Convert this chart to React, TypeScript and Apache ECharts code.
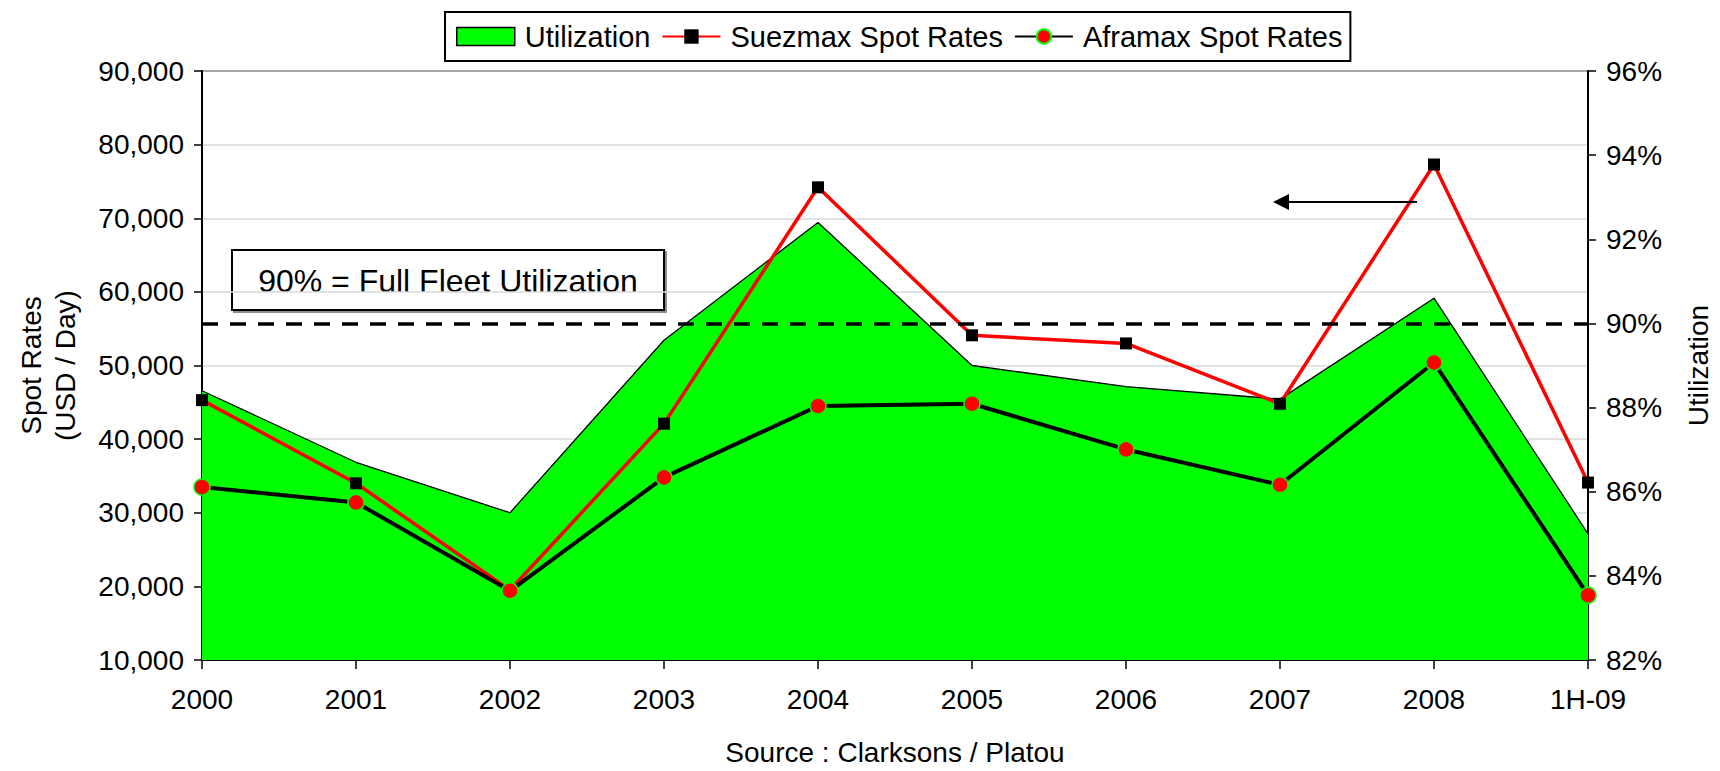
import React, { useEffect, useRef } from 'react';
import * as echarts from 'echarts';

const categories = ['2000', '2001', '2002', '2003', '2004', '2005', '2006', '2007', '2008', '1H-09'];
const utilization = [88.4, 86.7, 85.5, 89.6, 92.4, 89.0, 88.5, 88.2, 90.6, 85.0];
const suezmax = [45300, 34000, 19500, 42100, 74200, 54100, 53000, 44800, 77300, 34100];
const aframax = [33500, 31400, 19400, 34800, 44500, 44800, 38600, 33800, 50400, 18800];
const fullUtilization = 90;
const spotMin = 10000;
const spotMax = 90000;
const spotStep = 10000;
const utilMin = 82;
const utilMax = 96;
const utilStep = 2;

const FONT = '"Liberation Sans", Arial, sans-serif';

export default function App() {
  const ref = useRef<HTMLDivElement>(null);
  useEffect(() => {
    const chart = echarts.init(ref.current!, null, { renderer: 'svg' });
    chart.setOption({
      animation: false,
      backgroundColor: '#ffffff',
      textStyle: { fontFamily: FONT, color: '#000' },
      grid: { left: 202, right: 114, top: 71, bottom: 100, containLabel: false },
      legend: {
        left: 445,
        top: 12,
        padding: [10, 8, 10, 11],
        borderColor: '#000',
        borderWidth: 2,
        itemWidth: 58,
        itemHeight: 18,
        itemGap: 11,
        textStyle: { fontSize: 29, color: '#000', fontFamily: FONT, padding: [0, 0, 0, 5] },
        data: [
          { name: 'Utilization', icon: 'rect', itemStyle: { color: '#00ff00', borderColor: '#000', borderWidth: 1.5 } },
          { name: 'Suezmax Spot Rates' },
          { name: 'Aframax Spot Rates' },
        ],
      },
      xAxis: {
        type: 'category',
        data: categories,
        boundaryGap: false,
        name: 'Source : Clarksons / Platou',
        nameLocation: 'middle',
        nameGap: 78,
        nameTextStyle: { fontSize: 28, color: '#000', fontFamily: FONT },
        axisLine: { lineStyle: { color: '#000', width: 2 } },
        axisTick: { show: true, length: 9, lineStyle: { color: '#000', width: 1.5 } },
        axisLabel: { fontSize: 28, color: '#000', margin: 25, fontFamily: FONT },
        splitLine: { show: false },
      },
      yAxis: [
        {
          type: 'value',
          min: spotMin,
          max: spotMax,
          interval: spotStep,
          name: 'Spot Rates\n(USD / Day)',
          nameLocation: 'middle',
          nameRotate: 90,
          nameGap: 120,
          nameTextStyle: { fontSize: 28, color: '#000', fontFamily: FONT, lineHeight: 34 },
          axisLine: { show: true, lineStyle: { color: '#000', width: 2 } },
          axisTick: { show: true, length: 8, lineStyle: { color: '#000', width: 1.5 } },
          axisLabel: {
            fontSize: 28,
            color: '#000',
            margin: 18,
            fontFamily: FONT,
            formatter: (v: number) => v.toLocaleString('en-US'),
          },
          splitLine: {
            show: true,
            lineStyle: {
              color: ['#d9d9d9', '#d9d9d9', '#d9d9d9', '#d9d9d9', '#d9d9d9', '#d9d9d9', '#d9d9d9', '#d9d9d9', '#888888'],
              width: 1.5,
            },
          },
        },
        {
          type: 'value',
          min: utilMin,
          max: utilMax,
          interval: utilStep,
          position: 'right',
          name: 'Utilization',
          nameLocation: 'middle',
          nameRotate: 90,
          nameGap: 96,
          nameTextStyle: { fontSize: 28, color: '#000', fontFamily: FONT },
          axisLine: { show: true, lineStyle: { color: '#000', width: 2 } },
          axisTick: { show: true, length: 8, lineStyle: { color: '#000', width: 1.5 } },
          axisLabel: { fontSize: 28, color: '#000', margin: 18, fontFamily: FONT, formatter: '{value}%' },
          splitLine: { show: false },
        },
      ],
      series: [
        {
          name: 'Utilization',
          type: 'line',
          yAxisIndex: 1,
          data: utilization,
          symbol: 'none',
          itemStyle: { color: '#00ff00' },
          lineStyle: { color: '#000', width: 1.3 },
          areaStyle: { color: '#00ff00', opacity: 1 },
          z: 1,
          markLine: {
            silent: true,
            symbol: ['none', 'none'],
            label: { show: false },
            lineStyle: { color: '#000', width: 3.5, type: [16, 12] },
            data: [{ yAxis: fullUtilization }],
            z: 5,
          },
        },
        {
          name: 'Suezmax Spot Rates',
          type: 'line',
          yAxisIndex: 0,
          data: suezmax,
          symbol: 'rect',
          symbolSize: 12,
          itemStyle: { color: '#000' },
          lineStyle: { color: '#ff0000', width: 3.5 },
          z: 3,
        },
        {
          name: 'Aframax Spot Rates',
          type: 'line',
          yAxisIndex: 0,
          data: aframax,
          symbol: 'circle',
          symbolSize: 16,
          itemStyle: { color: '#ff0000', borderColor: '#00ff00', borderWidth: 1.5 },
          lineStyle: { color: '#000', width: 4 },
          z: 4,
        },
      ],
      graphic: [
        {
          type: 'group',
          z: 100,
          children: [
            {
              type: 'rect',
              shape: { x: 232, y: 250, width: 432, height: 60 },
              style: { fill: '#fff', stroke: '#000', lineWidth: 2, shadowColor: 'rgba(0,0,0,0.45)', shadowOffsetX: 2, shadowOffsetY: 2 },
            },
            {
              type: 'text',
              x: 448,
              y: 281,
              style: { text: '90% = Full Fleet Utilization', fontSize: 32, fontFamily: FONT, fill: '#000', align: 'center', verticalAlign: 'middle' },
            },
          ],
        },
        {
          type: 'polyline',
          z: 100,
          shape: { points: [[1417, 202], [1285, 202]] },
          style: { stroke: '#000', lineWidth: 2.2, fill: 'none' },
        },
        {
          type: 'polygon',
          z: 100,
          shape: { points: [[1273, 202], [1289, 194], [1289, 210]] },
          style: { fill: '#000' },
        },
      ],
    });
    return () => chart.dispose();
  }, []);
  return (
    <div
      ref={ref}
      style={{ position: 'fixed', left: 0, top: 0, width: 1720, height: 771, background: '#fff' }}
    />
  );
}
